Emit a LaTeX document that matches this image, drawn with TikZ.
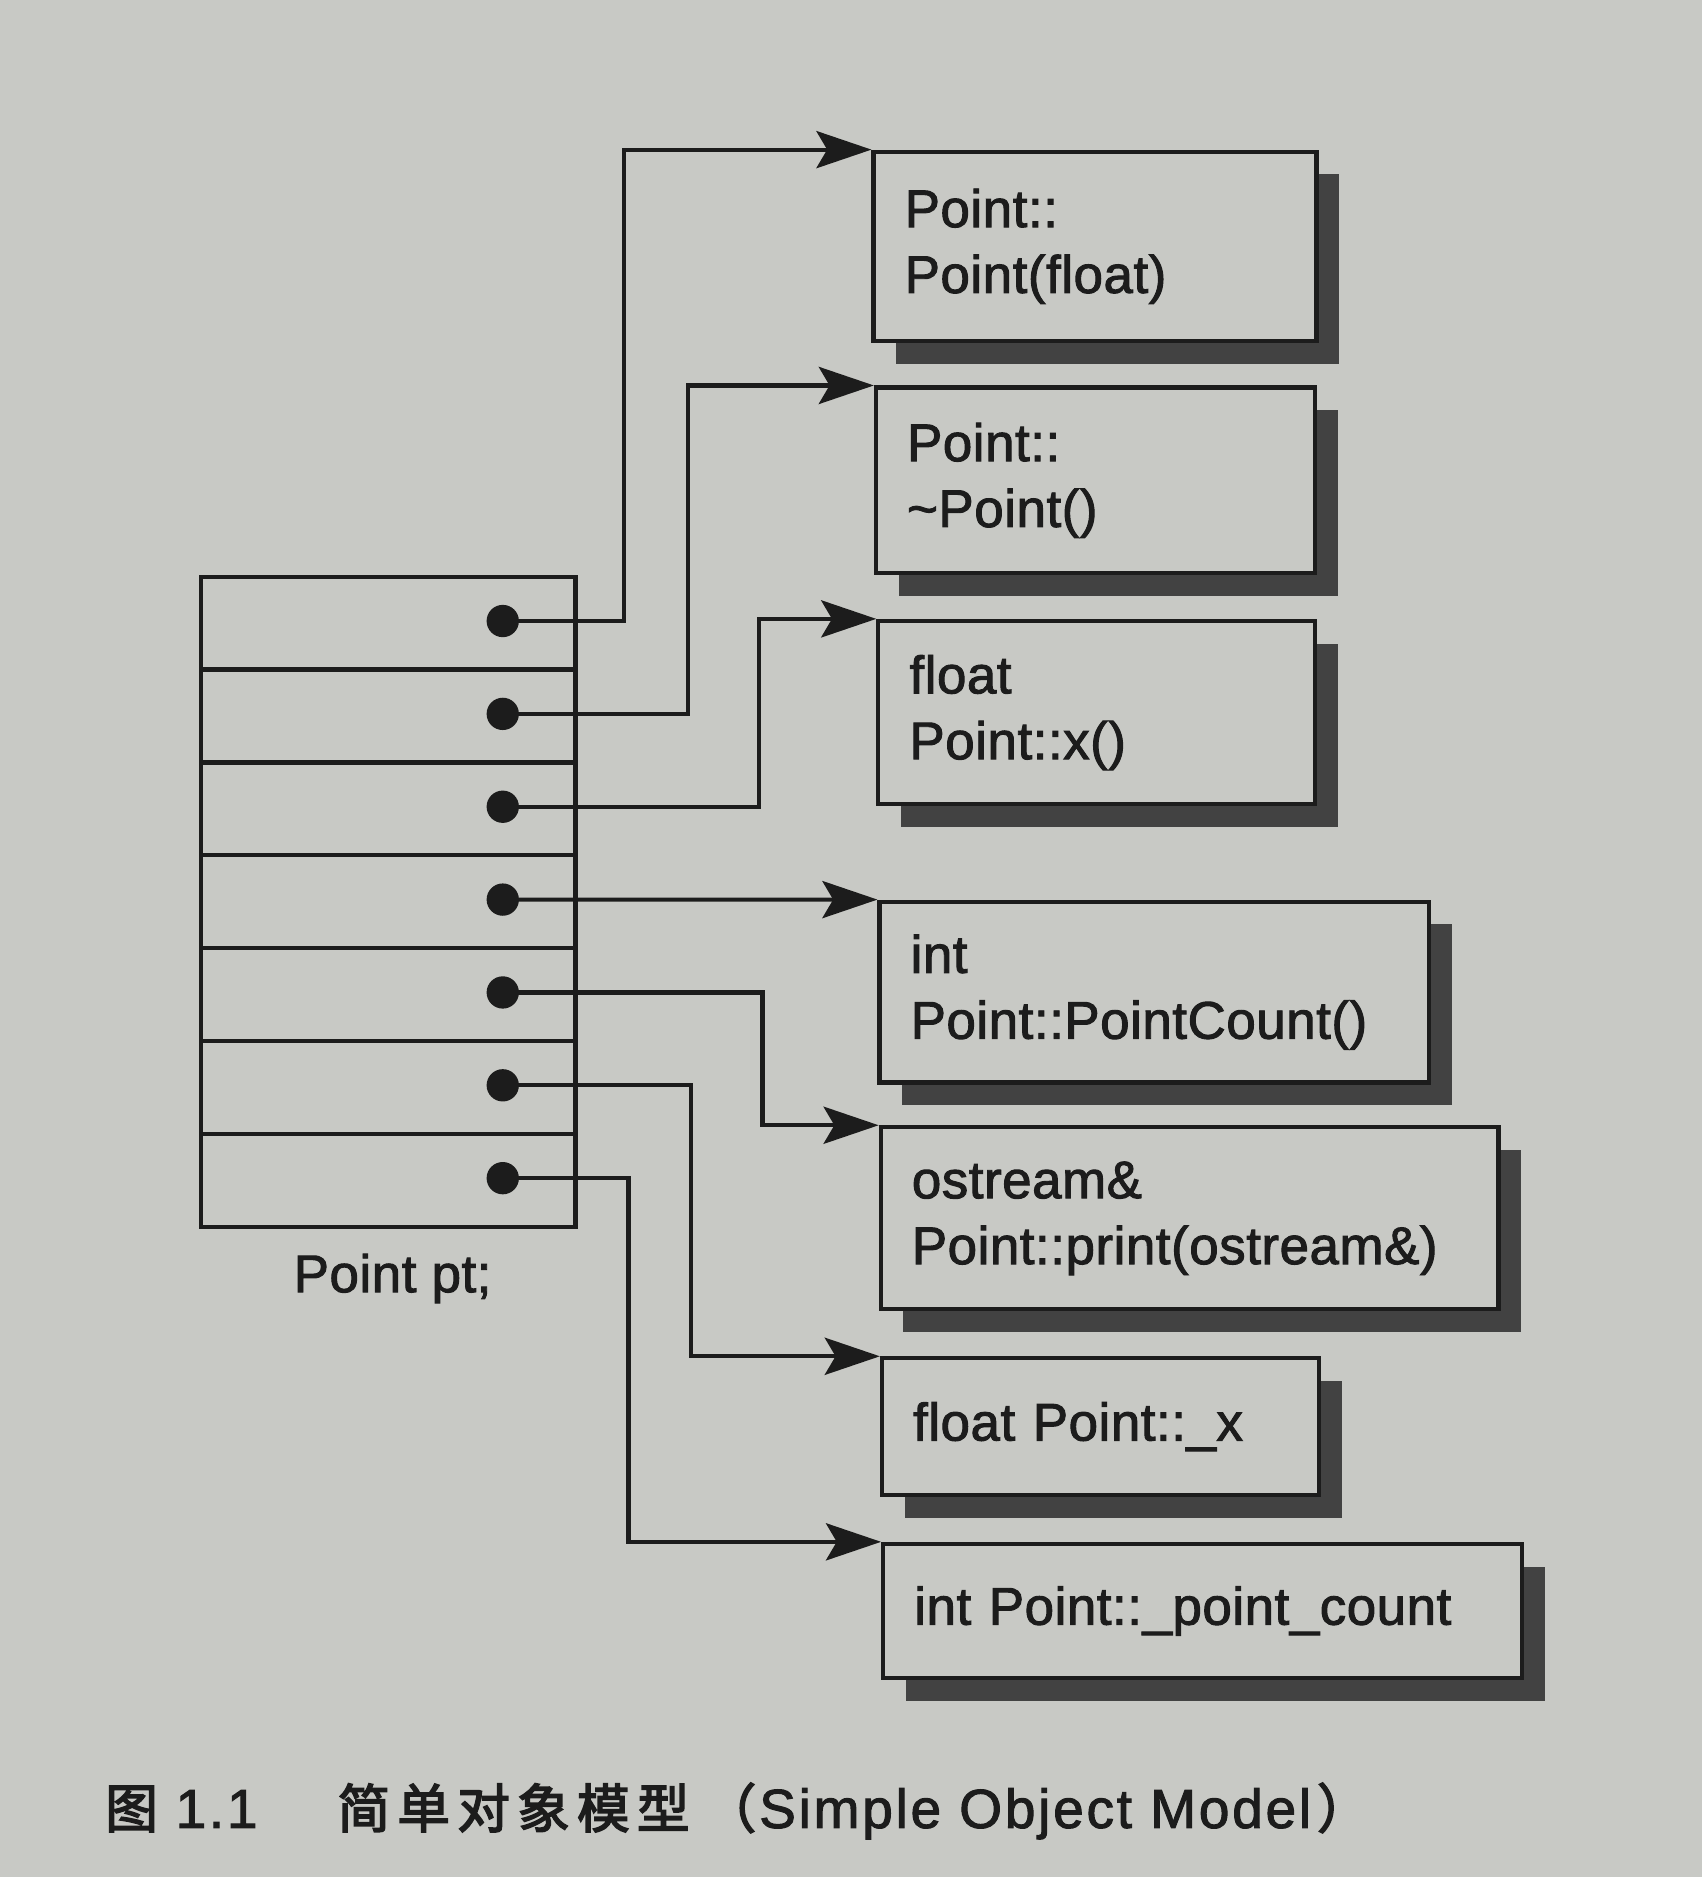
\documentclass[tikz,border=0pt]{standalone}
\usepackage{fontspec}
\setmainfont{Liberation Sans}
\newfontfamily\lblfont[FakeBold=1.8,LetterSpace=1]{Liberation Sans}
\newfontfamily\capfont[LetterSpace=5,FakeBold=1.8]{Liberation Sans}
\newfontfamily\cjk[FakeBold=3]{Noto Sans CJK SC}
\usetikzlibrary{arrows.meta,shadows}
\definecolor{paper}{HTML}{C8C9C5}
\definecolor{ink}{HTML}{1C1C1C}
\definecolor{shade}{HTML}{424242}
\tikzset{
  labelfont/.style={font=\lblfont\fontsize{44.2}{55}\selectfont},
  membox/.style={draw=ink, line width=3.5pt, fill=paper, anchor=north west,
    align=left, inner xsep=26pt, inner ysep=0pt, labelfont, text=ink,
    drop shadow={shadow xshift=19pt, shadow yshift=-19pt, fill=shade, opacity=1}},
  cell/.style={draw=ink, line width=3.5pt, minimum width=313pt, minimum height=77.57pt,
    inner sep=0pt, anchor=north west},
  slotdot/.style={circle, fill=ink, minimum size=27pt, inner sep=0pt},
  conn/.style={draw=ink, line width=3.5pt, line join=miter,
    -{Stealth[length=46pt, width=31pt, inset=9pt]}},
  captxt/.style={inner sep=0pt, anchor=base, text=ink, font=\capfont\fontsize{46}{50}\selectfont},
  capcjk/.style={inner sep=0pt, anchor=base, text=ink, font=\cjk\fontsize{44}{50}\selectfont},
}
\begin{document}
\begin{tikzpicture}[x=1pt,y=-1pt]
\path[fill=paper, use as bounding box] (0,0) rectangle (1422,1568);

% slot table
\foreach \i in {1,...,7} {
  \node[cell] (r\i) at (166,{480+(\i-1)*77.57}) {};
  \node[slotdot] (d\i) at (420,{480+(\i-0.5)*77.57}) {};
}
\node[labelfont, text=ink, inner sep=0pt] (ptlabel) at (328,1068) {Point pt;};

% member boxes
\node[membox, text width=318pt, minimum height=158pt] (b1) at (728,125) {Point::\\Point(float)};
\node[membox, text width=315pt, minimum height=155pt] (b2) at (730,322) {Point::\\\textasciitilde Point()};
\node[membox, text width=313pt, minimum height=153pt] (b3) at (732,517) {float\\Point::x()};
\node[membox, text width=407pt, minimum height=151pt] (b4) at (733,751.5) {int\\Point::PointCount()};
\node[membox, text width=464pt, minimum height=152pt] (b5) at (734,940) {ostream\&\\Point::print(ostream\&)};
\node[membox, text width=313pt, minimum height=114pt] (b6) at (735,1133) {float Point::\_x};
\node[membox, text width=482pt, minimum height=112pt] (b7) at (736,1288) {int Point::\_point\_count};

% connectors
\draw[conn] (d1.center) -- ++(101,0) |- (b1.north west);
\draw[conn] (d2.center) -- ++(155,0) |- (b2.north west);
\draw[conn] (d3.center) -- ++(214,0) |- (b3.north west);
\draw[conn] (d4.center) -- (b4.north west);
\draw[conn] (d5.center) -- ++(217,0) |- (b5.north west);
\draw[conn] (d6.center) -- ++(157,0) |- (b6.north west);
\draw[conn] (d7.center) -- ++(105,0) |- (b7.north west);

% caption
\node[capcjk] (c0) at (110,1527) {图};
\node[captxt] (c1) at (181,1527) {1.1};
\node[capcjk] (c2) at (304,1527) {简};
\node[capcjk] (c3) at (354,1527) {单};
\node[capcjk] (c4) at (404,1527) {对};
\node[capcjk] (c5) at (454,1527) {象};
\node[capcjk] (c6) at (504,1527) {模};
\node[capcjk] (c7) at (554,1527) {型};
\node[capcjk, anchor=base east] (c8) at (632,1527) {（};
\node[captxt, anchor=base west] (c9) at (634,1527) {Simple Object Model};
\node[capcjk, anchor=base west] (c12) at (1100,1527) {）};
\end{tikzpicture}
\end{document}
